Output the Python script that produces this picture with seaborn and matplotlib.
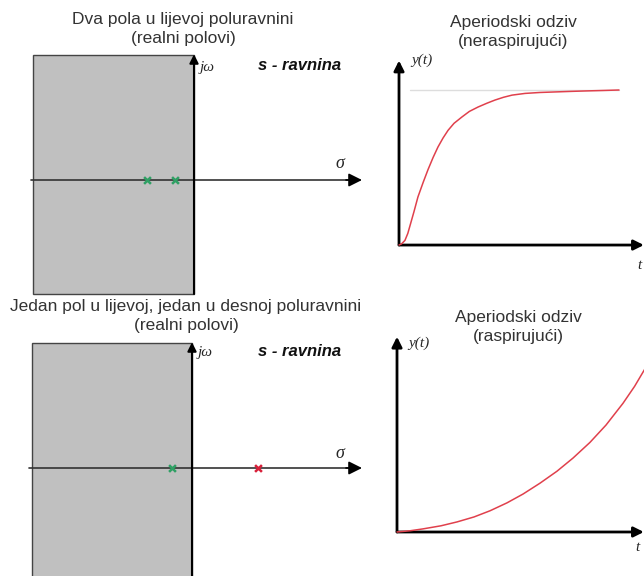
import matplotlib
matplotlib.use('Agg')
import matplotlib.pyplot as plt
import seaborn as sns
from matplotlib.patches import Rectangle

# pole positions (sigma)
poles_top = [-1.175, -0.475]
poles_bottom_left = [-0.5]
poles_bottom_right = [1.65]

# step response, non-diverging (two LHP poles)
t_stable = [0, 0.12, 0.27, 0.4, 0.5, 0.68, 0.86, 1.1, 1.32, 1.55, 1.77, 2.0, 2.23, 2.5,
            2.86, 3.2, 3.59, 4.0, 4.36, 4.75, 5.14, 5.73, 6.4, 7.0, 7.8, 8.5, 9.3, 10.0]
y_stable = [0, 0.008, 0.03, 0.075, 0.125, 0.215, 0.31, 0.405, 0.487, 0.565, 0.632, 0.69, 0.74, 0.785,
            0.826, 0.862, 0.89, 0.915, 0.935, 0.953, 0.967, 0.978, 0.984, 0.987, 0.991, 0.994, 0.997, 1.0]

# step response, diverging (one RHP pole)
t_unstable = [0, 0.6, 1.18, 2.0, 2.73, 3.5, 4.23, 5.0, 5.73, 6.5, 7.27, 8.0, 8.77, 9.5,
              10.27, 10.8, 11.3]
y_unstable = [0, 0.008, 0.02, 0.04, 0.065, 0.097, 0.137, 0.188, 0.245, 0.315, 0.392, 0.477,
              0.578, 0.69, 0.83, 0.94, 1.06]

titles_left = ['Dva pola u lijevoj poluravnini\n(realni polovi)',
               'Jedan pol u lijevoj, jedan u desnoj poluravnini\n(realni polovi)']
titles_right = ['Aperiodski odziv\n(neraspirujući)', 'Aperiodski odziv\n(raspirujući)']

sns.set_theme(style='white')
plt.rcParams['font.family'] = ['Liberation Sans', 'DejaVu Sans']

W, H = 644, 576
fig = plt.figure(figsize=(W / 100, H / 100), dpi=100)


def box(x0, y0, x1, y1):
    return [x0 / W, 1 - y1 / H, (x1 - x0) / W, (y1 - y0) / H]


def arrow(ax, start, tip, color, lw, ms=14):
    ax.annotate('', xy=tip, xytext=start,
                arrowprops=dict(arrowstyle='-|>', color=color, lw=lw,
                                mutation_scale=ms, shrinkA=0, shrinkB=0))


serif_it = dict(family=['Liberation Serif', 'DejaVu Serif'], style='italic')
green = '#2fa064'
red = '#d8203a'


def s_plane(ax, xlim, ylim, rect_left, rect_bottom, rect_top, ax_left, ax_right, stable, unstable):
    ax.set_xlim(*xlim)
    ax.set_ylim(*ylim)
    ax.axis('off')
    ax.add_patch(Rectangle((rect_left, rect_bottom), -rect_left, rect_top - rect_bottom,
                           facecolor='#c0c0c0', edgecolor='#444444', lw=1.0, zorder=1))
    ax.plot([ax_left, ax_right - 0.3], [0, 0], color='#333333', lw=1.2, zorder=2)
    arrow(ax, (ax_right - 0.4, 0), (ax_right, 0), 'black', 1.2, 20)
    arrow(ax, (0, rect_bottom), (0, rect_top + 0.02), 'black', 1.5, 13)
    sns.scatterplot(x=stable, y=[0] * len(stable), marker='x', color=green,
                    s=24, linewidth=1.8, ax=ax, zorder=5)
    if unstable:
        sns.scatterplot(x=unstable, y=[0] * len(unstable), marker='x', color=red,
                        s=24, linewidth=1.8, ax=ax, zorder=5)


# top-left s-plane
ax1 = fig.add_axes(box(0, 48, 380, 296))
s_plane(ax1, (-4.85, 4.65), (-2.9, 3.3), -4.025, -2.85, 3.125, -4.075, 4.2, poles_top, None)
ax1.text(0.15, 2.8, 'jω', fontsize=11, va='center', ha='left', **serif_it)
ax1.text(1.6, 2.87, 's - ravnina', fontsize=12, fontweight='bold', fontstyle='italic',
         va='center', ha='left', color='#111111')
ax1.text(3.65, 0.42, 'σ', fontsize=13, va='center', ha='center', **serif_it)

# bottom-left s-plane
ax3 = fig.add_axes(box(0, 300, 380, 576))
s_plane(ax3, (-4.8, 4.7), (-2.7, 4.2), -4.0, -2.8, 3.125, -4.075, 4.25,
        poles_bottom_left, poles_bottom_right)
ax3.text(0.15, 2.88, 'jω', fontsize=11, va='center', ha='left', **serif_it)
ax3.text(1.65, 2.92, 's - ravnina', fontsize=12, fontweight='bold', fontstyle='italic',
         va='center', ha='left', color='#111111')
ax3.text(3.7, 0.35, 'σ', fontsize=13, va='center', ha='center', **serif_it)

# top-right response
ax2 = fig.add_axes(box(380, 50, 644, 290))
ax2.set_xlim(-0.864, 11.136)
ax2.set_ylim(-0.29, 1.258)
ax2.axis('off')
ax2.plot([0.5, 10.0], [1.0, 1.0], color='#dddddd', lw=1)
sns.lineplot(x=t_stable, y=y_stable, color='#e0404c', lw=1.1, ax=ax2, zorder=4)
arrow(ax2, (0, 0), (0, 1.19), 'black', 2.0, 15)
arrow(ax2, (0, 0), (11.13, 0), 'black', 2.0, 15)
ax2.text(0.55, 1.19, 'y(t)', fontsize=11, va='center', ha='left', **serif_it)
ax2.text(10.95, -0.13, 't', fontsize=11, va='center', ha='center', **serif_it)

# bottom-right response
ax4 = fig.add_axes(box(380, 300, 644, 576))
ax4.set_xlim(-0.773, 11.227)
ax4.set_ylim(-0.284, 1.497)
ax4.axis('off')
sns.lineplot(x=t_unstable, y=y_unstable, color='#e0404c', lw=1.1, ax=ax4, zorder=4)
arrow(ax4, (0, 0), (0, 1.26), 'black', 2.0, 15)
arrow(ax4, (0, 0), (11.22, 0), 'black', 2.0, 15)
ax4.text(0.5, 1.22, 'y(t)', fontsize=11, va='center', ha='left', **serif_it)
ax4.text(10.95, -0.097, 't', fontsize=11, va='center', ha='center', **serif_it)

# titles
for txt, (x, y) in zip(titles_left, [(183, 29), (186, 316)]):
    fig.text(x / W, 1 - y / H, txt, ha='center', va='center', fontsize=12.5,
             color='#333333', linespacing=1.3)
for txt, (x, y) in zip(titles_right, [(513, 32), (518, 327)]):
    fig.text(x / W, 1 - y / H, txt, ha='center', va='center', fontsize=12.5,
             color='#333333', linespacing=1.3)

fig.savefig('out.png', dpi=100)
